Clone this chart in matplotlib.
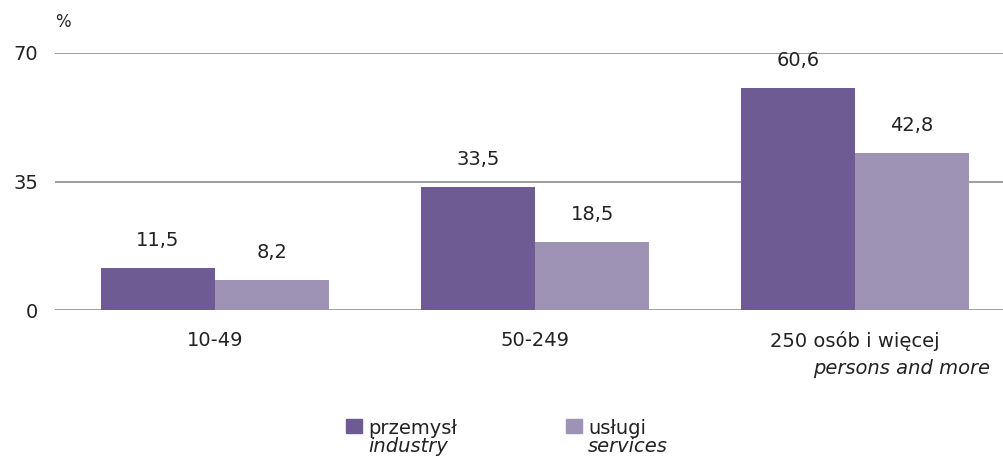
import matplotlib.pyplot as plt
import numpy as np
from matplotlib.patches import Rectangle

plt.rcParams['font.family'] = ['DejaVu Sans']

categories = ['10-49', '50-249', '250 osób i więcej']
industry = [11.5, 33.5, 60.6]
services = [8.2, 18.5, 42.8]
yticks = [0, 35, 70]

c_ind = '#6f5b93'
c_srv = '#9e93b5'
txt = '#222222'
fs = 14

fig = plt.figure(figsize=(10.04, 4.58), dpi=100)
ax = fig.add_axes([55 / 1004, 1 - 310 / 458, (1004 - 55) / 1004, (310 - 53) / 458])

x = np.arange(len(categories))
w = 0.357
b1 = ax.bar(x - w / 2, industry, w, color=c_ind, zorder=3)
b2 = ax.bar(x + w / 2, services, w, color=c_srv, zorder=3)

for bars, vals in ((b1, industry), (b2, services)):
    for r, v in zip(bars, vals):
        ax.text(r.get_x() + r.get_width() / 2, v + 7.4, f'{v:.1f}'.replace('.', ','),
                ha='center', va='center', fontsize=fs, color=txt)

ax.set_xlim(-0.5, 2.5 - 11 / 320)
ax.set_ylim(0, 70)
ax.set_yticks(yticks)
ax.set_yticklabels([str(t) for t in yticks], fontsize=fs, color=txt)
ax.yaxis.grid(True, color='#8c8c8c', linewidth=1.2, zorder=0)
ax.tick_params(axis='y', length=0, pad=12)
ax.set_xticks([])
for s in ax.spines.values():
    s.set_visible(False)

# category labels
for i, c in enumerate(categories):
    ax.text(i, -8.4, c, ha='center', va='center', fontsize=fs, color=txt)
ax.text(2 + 135 / 320, -15.8, 'persons and more', ha='right', va='center', fontsize=fs,
        style='italic', color=txt)

fig.text(55 / 1004, 1 - 22 / 458, '%', fontsize=12, color=txt, va='center')

# legend
for lx, name, en, col in ((346, 'przemysł', 'industry', c_ind), (566, 'usługi', 'services', c_srv)):
    fig.patches.append(Rectangle((lx / 1004, 1 - 433 / 458), 16 / 1004, 14 / 458,
                                 transform=fig.transFigure, color=col))
    fig.text((lx + 22) / 1004, 1 - 428 / 458, name, fontsize=fs, va='center', color=txt)
    fig.text((lx + 22) / 1004, 1 - 447 / 458, en, fontsize=fs, va='center',
             style='italic', color=txt)

fig.savefig('out.png', dpi=100)
